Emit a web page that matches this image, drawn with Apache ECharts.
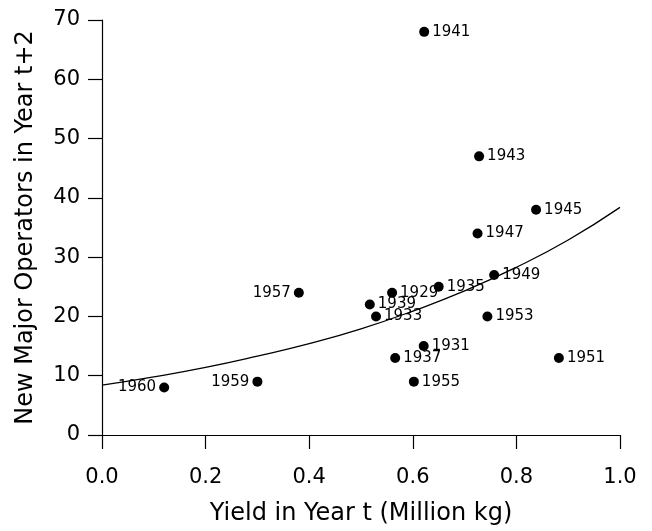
<!DOCTYPE html>
<html>
<head>
<meta charset="utf-8">
<script src="https://cdn.jsdelivr.net/npm/echarts@6/dist/echarts.min.js"></script>
<style>
html,body{margin:0;padding:0;background:#fff;}
#chart{width:652px;height:531px;}
</style>
</head>
<body>
<div id="chart"></div>
<script>
// ---- data ----
const years  = ['1929','1931','1933','1935','1937','1939','1941','1943','1945','1947','1949','1951','1953','1955','1957','1959','1960'];
const yields = [0.560, 0.621, 0.529, 0.650, 0.566, 0.517, 0.622, 0.728, 0.838, 0.725, 0.757, 0.882, 0.744, 0.602, 0.380, 0.300, 0.120];
const newOps = [24, 15, 20, 25, 13, 22, 68, 47, 38, 34, 27, 13, 20, 9, 24, 9, 8];
// fitted curve
const curveX = [0.0, 0.1, 0.2, 0.3, 0.4, 0.5, 0.6, 0.7, 0.8, 0.9, 1.0];
const curveY = [8.4, 9.8, 11.4, 13.3, 15.4, 17.9, 20.9, 24.3, 28.3, 32.9, 38.4];
const xTicks = [0.0, 0.2, 0.4, 0.6, 0.8, 1.0];
const yTicks = [0, 10, 20, 30, 40, 50, 60, 70];
const leftLabelYears = ['1957', '1959', '1960'];

const FONT = '"DejaVu Sans", "Liberation Sans", Arial, sans-serif';
const chart = echarts.init(document.getElementById('chart'), null, {renderer: 'canvas'});

const points = years.map((y, i) => ({
  value: [yields[i], newOps[i], y],
  label: { position: leftLabelYears.includes(y) ? 'left' : 'right' }
}));
const curve = curveX.map((x, i) => [x, curveY[i]]);

chart.setOption({
  backgroundColor: '#fff',
  animation: false,
  grid: { left: 102, right: 32, top: 20, bottom: 95, containLabel: false },
  xAxis: {
    type: 'value', min: 0, max: 1, interval: 0.2,
    name: 'Yield in Year t (Million kg)',
    nameLocation: 'middle', nameGap: 67,
    nameTextStyle: { fontFamily: FONT, fontSize: 24, color: '#000' },
    axisLine: { show: true, lineStyle: { color: '#000', width: 1.2 } },
    axisTick: { show: true, inside: false, length: 14, lineStyle: { color: '#000', width: 1.2 } },
    axisLabel: { fontFamily: FONT, fontSize: 21, color: '#000', margin: 32,
      formatter: v => v.toFixed(1) },
    splitLine: { show: false }
  },
  yAxis: {
    type: 'value', min: 0, max: 70, interval: 10,
    name: 'New Major Operators in Year t+2',
    nameLocation: 'middle', nameGap: 64,
    nameTextStyle: { fontFamily: FONT, fontSize: 24, color: '#000' },
    axisLine: { show: true, lineStyle: { color: '#000', width: 1.2 } },
    axisTick: { show: true, inside: false, length: 14, lineStyle: { color: '#000', width: 1.2 } },
    axisLabel: { fontFamily: FONT, fontSize: 21, color: '#000', margin: 22 },
    splitLine: { show: false }
  },
  series: [
    {
      type: 'line', data: curve, smooth: true, showSymbol: false, symbol: 'none',
      lineStyle: { color: '#000', width: 1.3 }, z: 2, silent: true
    },
    {
      type: 'scatter', data: points, symbol: 'circle', symbolSize: 10,
      itemStyle: { color: '#000', opacity: 1 }, z: 3,
      label: {
        show: true, distance: 3, fontFamily: FONT, fontSize: 15, color: '#000',
        formatter: p => p.value[2]
      }
    }
  ]
});
</script>
</body>
</html>
